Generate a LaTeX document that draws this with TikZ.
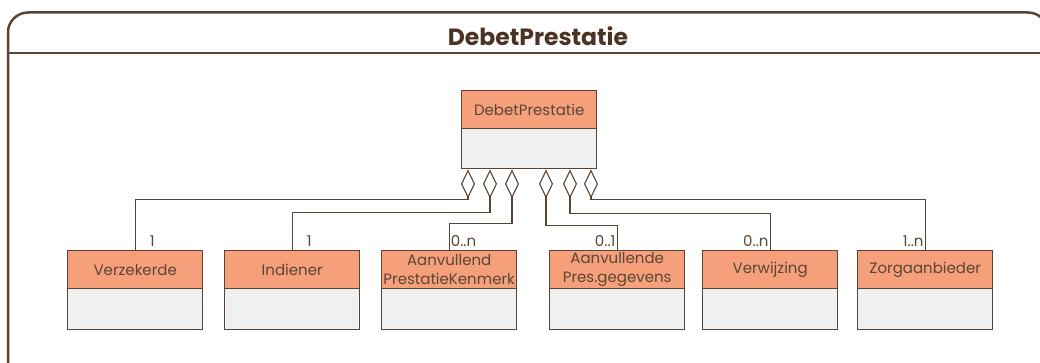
\documentclass[tikz,border=0pt]{standalone}
\usepackage{fontspec}
\setmainfont{Poppins}
\usetikzlibrary{arrows.meta}
\definecolor{hdr}{HTML}{F5A07A}
\definecolor{bdy}{HTML}{F0F0F0}
\definecolor{edge}{HTML}{5A4535}
\definecolor{txt}{HTML}{5A4636}
\definecolor{ttl}{HTML}{4B3222}
\begin{document}
\begin{tikzpicture}[x=1pt,y=-1pt,
  clshead/.style={draw=edge, line width=1.4pt, fill=hdr, minimum width=135pt, minimum height=38pt,
    inner sep=0pt, text=txt, font=\fontsize{15}{19.5}\selectfont, align=center, anchor=north west},
  clsbody/.style={draw=edge, line width=1.4pt, fill=bdy, minimum width=135pt, minimum height=41pt,
    inner sep=0pt, anchor=north west},
  agg/.style={draw=edge, line width=1.1pt, -{Diamond[fill=white, length=29pt, width=14pt]}},
  mult/.style={text=txt, font=\fontsize{15}{17}\selectfont, inner sep=1.5pt},
  frame/.style={draw=edge, line width=2.5pt},
  titletext/.style={text=ttl, font=\bfseries\fontsize{23.5}{28}\selectfont}
]
\useasboundingbox (0,0) rectangle (1040,363);
\clip (0,0) rectangle (1040,363);

% outer frame
\draw[frame, rounded corners=20pt] (8,380) -- (8,12.5) -- (1048,12.5) -- (1048,380);
\draw[frame] (8,53) -- (1048,53);
\node[titletext] (title) at (538,36) {DebetPrestatie};

% main class
\node[clshead] (main) at (461,90) {DebetPrestatie};
\node[clsbody, minimum height=40pt] (mainb) at (461,128) {};

% child classes
\node[clshead] (verz) at (67,250) {Verzekerde};
\node[clsbody] (verzb) at (67,288) {};
\node[clshead] (ind) at (224,250) {Indiener};
\node[clsbody] (indb) at (224,288) {};
\node[clshead] (apk) at (381,250) {Aanvullend\\PrestatieKenmerk};
\node[clsbody] (apkb) at (381,288) {};
\node[clshead] (apg) at (549,250) {Aanvullende\\Pres.gegevens};
\node[clsbody] (apgb) at (549,288) {};
\node[clshead] (verw) at (702,250) {Verwijzing};
\node[clsbody] (verwb) at (702,288) {};
\node[clshead] (zorg) at (857,250) {Zorgaanbieder};
\node[clsbody] (zorgb) at (857,288) {};

% diamond attachment points
\coordinate (d1) at ([xshift=7pt]mainb.south west);
\coordinate (d2) at ([xshift=29pt]mainb.south west);
\coordinate (d3) at ([xshift=51pt]mainb.south west);
\coordinate (d4) at ([xshift=85pt]mainb.south west);
\coordinate (d5) at ([xshift=109pt]mainb.south west);
\coordinate (d6) at ([xshift=130pt]mainb.south west);

% aggregations
\draw[agg] (verz.north) |- ([yshift=-30pt]d1) -- (d1);
\draw[agg] (ind.north) |- ([yshift=-43pt]d2) -- (d2);
\draw[agg] (apk.north) |- ([yshift=-54pt]d3) -- (d3);
\draw[agg] (apg.north) |- ([yshift=-56pt]d4) -- (d4);
\draw[agg] (verw.north) |- ([yshift=-44pt]d5) -- (d5);
\draw[agg] (zorg.north) |- ([yshift=-30pt]d6) -- (d6);

% multiplicities
\node[mult, anchor=south west] (m1) at ([xshift=13pt, yshift=2pt]verz.north) {1};
\node[mult, anchor=south west] (m2) at ([xshift=13pt, yshift=2pt]ind.north) {1};
\node[mult, anchor=south west] (m3) at ([yshift=2pt]apk.north) {0..n};
\node[mult, anchor=south east] (m4) at ([yshift=2pt]apg.north) {0..1};
\node[mult, anchor=south east] (m5) at ([yshift=2pt]verw.north) {0..n};
\node[mult, anchor=south east] (m6) at ([yshift=2pt]zorg.north) {1..n};
\end{tikzpicture}
\end{document}
